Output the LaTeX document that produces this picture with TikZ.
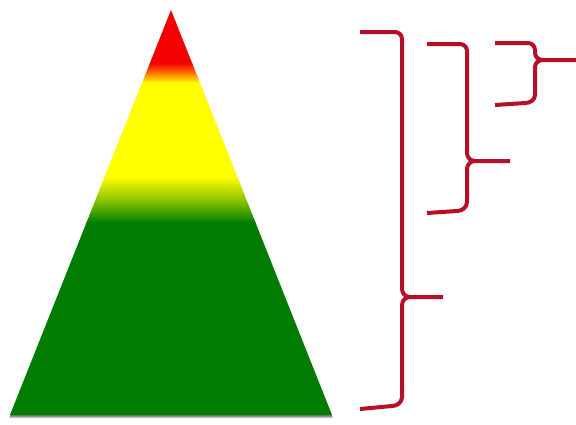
\documentclass[tikz,border=0pt]{standalone}
\usetikzlibrary{calc}
\definecolor{bracered}{RGB}{181,16,40}
\definecolor{pyrred}{RGB}{245,0,0}
\definecolor{pyryellow}{RGB}{255,255,0}
\definecolor{pyrgreen}{RGB}{0,125,0}
\definecolor{pyrorange}{RGB}{255,120,0}
\tikzset{
  brace/.style={draw=bracered, line width=4pt, line join=round},
}
\begin{document}
\begin{tikzpicture}[x=1pt,y=-1pt]
\useasboundingbox (0,0) rectangle (576,424);
% triangle corners
\coordinate (apex) at (171,10);
\coordinate (bl) at (10,415);
\coordinate (br) at (332,415);
% shadow
\fill[black, opacity=0.25] ($(apex)+(0,2)$) -- ($(bl)+(-1,3)$) -- ($(br)+(1,3)$) -- cycle;
\fill[black, opacity=0.35] ($(apex)+(0,1)$) -- ($(bl)+(0,1.5)$) -- ($(br)+(0,1.5)$) -- cycle;
% coloured bands
\begin{scope}
  \clip (apex) -- (bl) -- (br) -- cycle;
  \fill[pyrred] (0,0) rectangle (340,64);
  \shade[top color=pyrred, bottom color=pyryellow, middle color=pyrorange] (0,63) rectangle (340,83);
  \fill[pyryellow] (0,82) rectangle (340,178);
  \shade[top color=pyryellow, bottom color=pyrgreen, middle color={rgb,255:red,140;green,195;blue,0}] (0,177) rectangle (340,223);
  \fill[pyrgreen] (0,222) rectangle (340,416);
\end{scope}
% brace 1
\draw[brace] (360,32) -- (395,32) to[out=0,in=90] (402,39) -- (402,289) to[out=-90,in=180] (410,297) -- (443,297);
\draw[brace] (360,409) -- (392,406) to[out=0,in=-90] (402,397) -- (402,305) to[out=90,in=180] (410,297);
% brace 2
\draw[brace] (427,44) -- (460,44) to[out=0,in=90] (467,51) -- (467,153) to[out=-90,in=180] (475,161) -- (510,161);
\draw[brace] (427,213) -- (457,211) to[out=0,in=-90] (467,202) -- (467,169) to[out=90,in=180] (475,161);
% brace 3
\draw[brace] (495,43) -- (528,43) to[out=0,in=90] (535,50) -- (535,53) to[out=-90,in=180] (543,60) -- (576,60);
\draw[brace] (495,105) -- (525,103) to[out=0,in=-90] (535,95) -- (535,67) to[out=90,in=180] (543,60);
\end{tikzpicture}
\end{document}
